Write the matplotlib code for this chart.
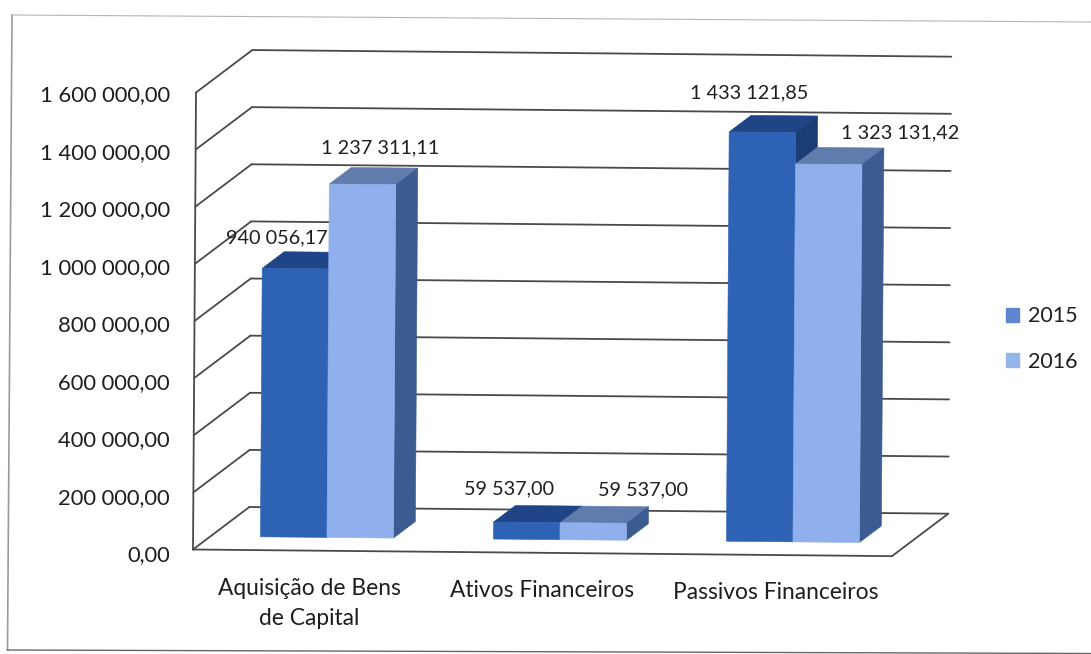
# ==========================================
# DESPESAS 2015 X 2016 - 3D STYLE BAR CHART
# ==========================================

import matplotlib
matplotlib.use('Agg')
import matplotlib.pyplot as plt
from matplotlib.patches import Polygon, Patch
from matplotlib.transforms import Affine2D

plt.rcParams['font.family'] = ['Lato', 'DejaVu Sans']

# ==========================================
# DATA
# ==========================================

categories = ['Aquisição de Bens\nde Capital', 'Ativos Financeiros', 'Passivos Financeiros']
series_names = ['2015', '2016']
values_2015 = [940056.17, 59537.00, 1433121.85]
values_2016 = [1237311.11, 59537.00, 1323131.42]
labels_2015 = ['940 056,17', '59 537,00', '1 433 121,85']
labels_2016 = ['1 237 311,11', '59 537,00', '1 323 131,42']
ticks = [0, 200000, 400000, 600000, 800000, 1000000, 1200000, 1400000, 1600000]
tick_labels = ['0,00', '200 000,00', '400 000,00', '600 000,00', '800 000,00',
               '1 000 000,00', '1 200 000,00', '1 400 000,00', '1 600 000,00']

# ==========================================
# LAYOUT
# ==========================================

W, H = 1091, 654
x0, y0 = 193, H - 549.5      # front corner of the floor, display pixels
plot_w, plot_h = 699, 457
ymax = 1600000

# the page was scanned slightly crooked
shear_x, shear_y = 0.0066, -0.0095
# depth of the chart box, in pixels
depth_x, depth_y = 56, 43

bar_w = 66.5 / (plot_w / 3)
d_front, d_back = 0.31, 0.70

colors_2015 = {'front': '#2D62B5', 'top': '#1F4586', 'side': '#1B3D75'}
colors_2016 = {'front': '#8FB0EC', 'top': '#5F7CAC', 'side': '#3C5B90'}
grid_color = '#4A4A4A'
text_color = '#1E1E1E'

fig = plt.figure(figsize=(W / 100, H / 100), dpi=100)
ax = fig.add_axes([x0 / W, y0 / H, plot_w / W, plot_h / H])
ax.set_xlim(0, 3)
ax.set_ylim(0, ymax)
ax.axis('off')

tilt = (Affine2D().translate(-x0, -y0)
        + Affine2D.from_values(1, shear_y, shear_x, 1, 0, 0)
        + Affine2D().translate(x0, y0))
tr = ax.transData + tilt


def proj(x, v, d=0.0):
    # oblique projection: depth d moves a point right and up
    return (x + d * depth_x * 3 / plot_w, v + d * depth_y * ymax / plot_h)


def line(p, q, lw=1.3, z=1):
    ax.plot([p[0], q[0]], [p[1], q[1]], color=grid_color, lw=lw, zorder=z,
            transform=tr, clip_on=False, solid_capstyle='round')


def face(points, color, z):
    ax.add_patch(Polygon(points, closed=True, facecolor=color, edgecolor=color,
                         lw=0.4, zorder=z, transform=tr, clip_on=False))


def bar3d(x_left, value, colors, z):
    x_right = x_left + bar_w
    face([proj(x_left, value, d_front), proj(x_left, value, d_back),
          proj(x_right, value, d_back), proj(x_right, value, d_front)], colors['top'], z)
    face([proj(x_right, 0, d_front), proj(x_right, 0, d_back),
          proj(x_right, value, d_back), proj(x_right, value, d_front)], colors['side'], z)
    face([proj(x_left, 0, d_front), proj(x_right, 0, d_front),
          proj(x_right, value, d_front), proj(x_left, value, d_front)], colors['front'], z + 0.1)


# ==========================================
# WALLS AND GRID
# ==========================================

line(proj(0, 0), proj(0, ymax))
line(proj(0, 0), proj(3, 0))
line(proj(3, 0), proj(3, 0, 1))

for t, t_label in zip(ticks, tick_labels):
    line(proj(0, t), proj(0, t, 1))
    line(proj(0, t, 1), proj(3, t, 1))
    ax.annotate(t_label, xy=proj(0, t), xycoords=tr,
                xytext=(-23 - 3 * t / ymax, -6 + 3 * t / ymax),
                textcoords='offset pixels', ha='right', va='center',
                fontsize=15.8, color=text_color, annotation_clip=False)

# ==========================================
# BARS AND LABELS
# ==========================================

offsets_2015 = [(-19, 31), (-18, 33), (-13, 39)]
offsets_2016 = [(18, 36), (50, 33), (71, 31)]

for i in range(len(categories)):
    left = i + 0.5 - bar_w
    bar3d(left, values_2015[i], colors_2015, 3)
    bar3d(left + bar_w, values_2016[i], colors_2016, 4)

    p1 = proj(left + bar_w / 2, values_2015[i], d_front)
    p2 = proj(left + bar_w * 1.5, values_2016[i], d_front)
    ax.annotate(labels_2015[i], xy=p1, xycoords=tr, xytext=offsets_2015[i],
                textcoords='offset pixels', ha='center', va='center', fontsize=14.3,
                color=text_color, zorder=6, annotation_clip=False)
    ax.annotate(labels_2016[i], xy=p2, xycoords=tr, xytext=offsets_2016[i],
                textcoords='offset pixels', ha='center', va='center', fontsize=14.3,
                color=text_color, zorder=6, annotation_clip=False)

    ax.annotate(categories[i], xy=proj(i + 0.5, 0), xycoords=tr, xytext=(0, -27),
                textcoords='offset pixels', ha='center', va='top', fontsize=16.4,
                color=text_color, linespacing=1.55, annotation_clip=False)

# ==========================================
# LEGEND
# ==========================================

handles = [Patch(color='#5F86CF'), Patch(color='#93B5EA')]
fig.legend(handles, series_names, loc='center left',
           bbox_to_anchor=(987 / W, 1 - 339 / H), frameon=False, fontsize=15.5,
           handlelength=0.6, handleheight=0.6, handletextpad=0.42, labelspacing=1.18,
           labelcolor=text_color)

# ==========================================
# CHART BORDER
# ==========================================

fig.add_artist(plt.Line2D([12 / W, 7.5 / W], [1 - 15 / H, 1 - 650 / H], color='#9A9A9A', lw=1.2))
fig.add_artist(plt.Line2D([7.5 / W, 1], [1 - 650 / H, 1 - 653.5 / H], color='#666666', lw=1))
fig.add_artist(plt.Line2D([12 / W, 1], [1 - 15 / H, 1 - 22 / H], color='#B5B5B5', lw=0.8))

fig.savefig('out.png', dpi=100)
